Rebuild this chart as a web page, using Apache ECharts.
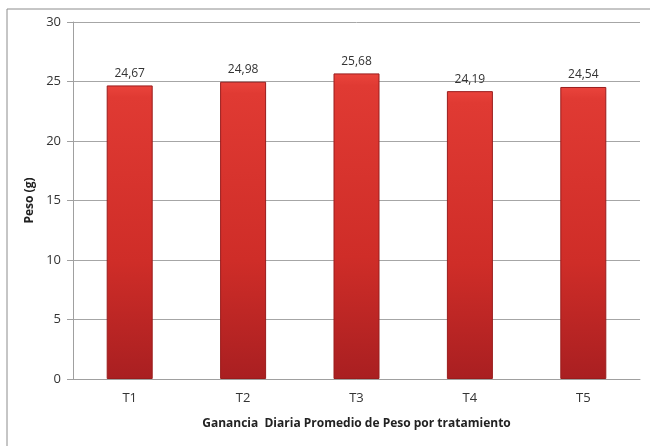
<!DOCTYPE html>
<html>
<head>
<meta charset="utf-8">
<script src="https://cdn.jsdelivr.net/npm/echarts@6/dist/echarts.min.js"></script>
<style>html,body{margin:0;padding:0;background:#fff;}#c{width:650px;height:446px;}</style>
</head>
<body>
<div id="c"></div>
<script>
var categories = ['T1', 'T2', 'T3', 'T4', 'T5'];
var values = [24.67, 24.98, 25.68, 24.19, 24.54];
var yTicks = [0, 5, 10, 15, 20, 25, 30];

var chart = echarts.init(document.getElementById('c'), null, {renderer: 'canvas'});
var font = '"Open Sans", "DejaVu Sans", sans-serif';
chart.setOption({
  animation: false,
  backgroundColor: '#fff',
  graphic: [{
    type: 'rect', left: 4.5, top: 6.5, silent: true,
    shape: {x: 0, y: 0, width: 700, height: 500},
    style: {fill: 'none', stroke: '#8c8c8c', lineWidth: 1}
  }],
  grid: {left: 73, right: 10, top: 22, bottom: 67},
  xAxis: {
    type: 'category', data: categories,
    name: 'Ganancia  Diaria Promedio de Peso por tratamiento',
    nameLocation: 'middle', nameGap: 39,
    nameTextStyle: {fontFamily: font, fontSize: 12, fontWeight: 'bold', color: '#222'},
    axisLine: {lineStyle: {color: '#a0a0a0', width: 1}},
    axisTick: {show: false},
    axisLabel: {fontFamily: font, fontSize: 13, color: '#333', margin: 13}
  },
  yAxis: {
    type: 'value', min: yTicks[0], max: yTicks[yTicks.length - 1], interval: 5,
    name: 'Peso (g)', nameLocation: 'middle', nameGap: 34,
    nameTextStyle: {fontFamily: font, fontSize: 12, fontWeight: 'bold', color: '#222'},
    axisLine: {show: true, lineStyle: {color: '#a0a0a0', width: 1}},
    axisTick: {show: true, length: 6, lineStyle: {color: '#a0a0a0'}},
    axisLabel: {fontFamily: font, fontSize: 13, color: '#333', margin: 12},
    splitLine: {lineStyle: {color: '#a6a6a6', width: 1}}
  },
  series: [{
    type: 'bar', data: values, barWidth: 46,
    itemStyle: {
      color: new echarts.graphic.LinearGradient(0, 0, 0, 1, [
        {offset: 0, color: '#ea443c'},
        {offset: 0.04, color: '#e03a33'},
        {offset: 0.6, color: '#cf2d28'},
        {offset: 1, color: '#a91f21'}
      ]),
      borderColor: '#9a1c1c', borderWidth: 1
    },
    label: {
      show: true, position: 'top', distance: 6,
      fontFamily: font, fontSize: 12, color: '#333',
      formatter: function (p) { return p.value.toFixed(2).replace('.', ','); }
    }
  }]
});
</script>
</body>
</html>
